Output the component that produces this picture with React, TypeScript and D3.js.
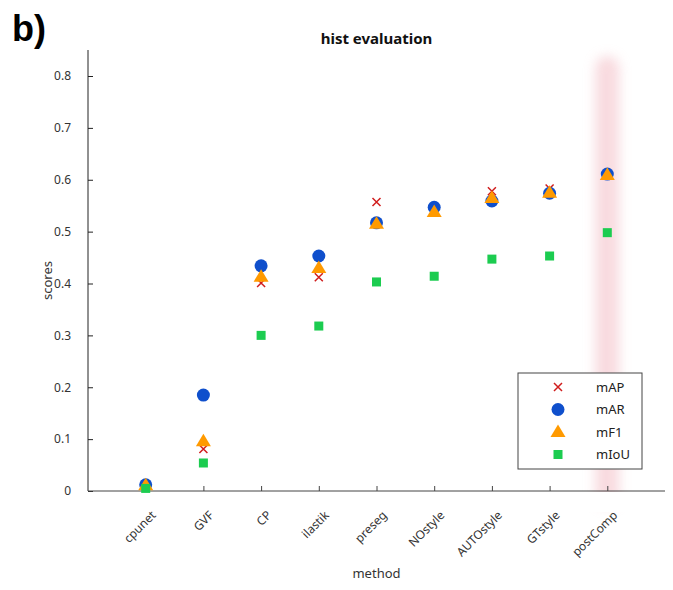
import React, { useEffect, useRef } from "react";
import * as d3 from "d3";

const methods = ["cpunet", "GVF", "CP", "ilastik", "preseg", "NOstyle", "AUTOstyle", "GTstyle", "postComp"];
const mAP = [0.01, 0.081, 0.401, 0.412, 0.557, 0.54, 0.578, 0.583, 0.61];
const mAR = [0.012, 0.185, 0.434, 0.453, 0.517, 0.547, 0.559, 0.574, 0.611];
const mF1 = [0.011, 0.096, 0.413, 0.43, 0.515, 0.538, 0.565, 0.575, 0.609];
const mIoU = [0.005, 0.054, 0.3, 0.318, 0.403, 0.414, 0.447, 0.453, 0.498];
const yTicks = [0, 0.1, 0.2, 0.3, 0.4, 0.5, 0.6, 0.7, 0.8];
const highlighted = "postComp";

const series = [
  { name: "mAP", values: mAP, color: "#d01c1c", shape: "x" },
  { name: "mAR", values: mAR, color: "#0f4fcc", shape: "circle" },
  { name: "mF1", values: mF1, color: "#ff9a00", shape: "triangle" },
  { name: "mIoU", values: mIoU, color: "#1ccc50", shape: "square" },
];

const font = "'Noto Sans', 'Open Sans', sans-serif";

const App = () => {
  const svgRef = useRef<SVGSVGElement>(null);

  useEffect(() => {
    const svg = d3.select(svgRef.current);
    svg.selectAll("*").remove();

    const left = 88, right = 665, top = 50, bottom = 491;

    const x = d3.scaleLinear().domain([0, methods.length + 1]).range([left, right]);
    const y = d3.scaleLinear().domain([0, 0.8]).range([bottom, 76]);

    const defs = svg.append("defs");
    defs
      .append("filter")
      .attr("id", "blur")
      .attr("x", "-150%")
      .attr("y", "-10%")
      .attr("width", "400%")
      .attr("height", "120%")
      .append("feGaussianBlur")
      .attr("stdDeviation", 6);

    // highlight band
    const hi = methods.indexOf(highlighted) + 1;
    svg
      .append("rect")
      .attr("x", x(hi) - 12)
      .attr("y", top + 6)
      .attr("width", 24)
      .attr("height", bottom - top + 10)
      .attr("rx", 12)
      .attr("fill", "#f4c3ca")
      .attr("opacity", 0.6)
      .attr("filter", "url(#blur)");

    // white area below axis to cut band
    svg.append("rect").attr("x", left).attr("y", bottom + 1).attr("width", right - left).attr("height", 20).attr("fill", "#fff");

    // y axis
    const yAxis = svg
      .append("g")
      .attr("transform", `translate(${left},0)`)
      .call(d3.axisLeft(y).tickValues(yTicks).tickSize(-5).tickPadding(17).tickFormat((d) => (d === 0 ? "0" : d3.format(".1f")(d as number))));
    yAxis.select(".domain").attr("d", `M0,${top}V${bottom}`).attr("stroke", "#222");
    yAxis.selectAll(".tick line").attr("stroke", "#222");
    yAxis.selectAll(".tick text").attr("fill", "#333").style("font-family", font).style("font-size", "12px");

    // x axis
    const xAxis = svg
      .append("g")
      .attr("transform", `translate(0,${bottom})`)
      .call(d3.axisBottom(x).tickValues(d3.range(1, methods.length + 1)).tickSize(-5).tickFormat(() => ""));
    xAxis.select(".domain").attr("d", `M${left},0H${right}`).attr("stroke", "#444");
    xAxis.selectAll(".tick line").attr("stroke", "#444");

    methods.forEach((m, i) => {
      svg
        .append("text")
        .attr("transform", `translate(${x(i + 1) + 8},${bottom + 22}) rotate(-45)`)
        .attr("text-anchor", "end")
        .attr("dy", "0.35em")
        .attr("fill", "#333")
        .style("font-family", font)
        .style("font-size", "12px")
        .text(m);
    });

    const drawMarker = (g: any, shape: string, cx: number, cy: number, color: string) => {
      if (shape === "x") {
        const s = 4;
        g.append("path")
          .attr("d", `M${cx - s},${cy - s}L${cx + s},${cy + s}M${cx - s},${cy + s}L${cx + s},${cy - s}`)
          .attr("stroke", color)
          .attr("stroke-width", 1.5);
      } else if (shape === "circle") {
        g.append("circle").attr("cx", cx).attr("cy", cy).attr("r", 6.5).attr("fill", color);
      } else if (shape === "triangle") {
        g.append("path")
          .attr("d", `M${cx},${cy - 7.5}L${cx + 7.5},${cy + 5}L${cx - 7.5},${cy + 5}Z`)
          .attr("fill", color);
      } else {
        g.append("rect").attr("x", cx - 4.5).attr("y", cy - 4.5).attr("width", 9).attr("height", 9).attr("fill", color);
      }
    };

    const marks = svg.append("g");
    series.forEach((s) => {
      s.values.forEach((v, i) => drawMarker(marks, s.shape, x(i + 1), y(v), s.color));
    });

    // title
    svg
      .append("text")
      .attr("x", (left + right) / 2)
      .attr("y", 44)
      .attr("text-anchor", "middle")
      .style("font-family", font)
      .style("font-size", "15px")
      .style("font-weight", "bold")
      .attr("fill", "#111")
      .text("hist evaluation");

    svg
      .append("text")
      .attr("x", 12)
      .attr("y", 41)
      .style("font-family", "'Liberation Sans', Arial, sans-serif")
      .style("font-size", "36px")
      .style("font-weight", "bold")
      .attr("fill", "#000")
      .text("b)");

    svg
      .append("text")
      .attr("transform", `translate(52,${(top + bottom) / 2 + 10}) rotate(-90)`)
      .attr("text-anchor", "middle")
      .attr("fill", "#333")
      .style("font-family", font)
      .style("font-size", "13px")
      .text("scores");

    svg
      .append("text")
      .attr("x", (left + right) / 2)
      .attr("y", 578)
      .attr("text-anchor", "middle")
      .attr("fill", "#333")
      .style("font-family", font)
      .style("font-size", "13px")
      .text("method");

    // legend
    const legend = svg.append("g").attr("transform", "translate(518,373)");
    legend.append("rect").attr("width", 124).attr("height", 96).attr("fill", "#fff").attr("stroke", "#444");
    series.forEach((s, i) => {
      const cy = 14 + i * 22.5;
      drawMarker(legend, s.shape, 40, cy, s.color);
      legend
        .append("text")
        .attr("x", 78)
        .attr("y", cy)
        .attr("dy", "0.35em")
        .attr("fill", "#222")
        .style("font-family", font)
        .style("font-size", "13px")
        .text(s.name);
    });
  }, []);

  return <svg ref={svgRef} width={673} height={590} style={{ position: "absolute", left: 0, top: 0 }} />;
};

export default App;
